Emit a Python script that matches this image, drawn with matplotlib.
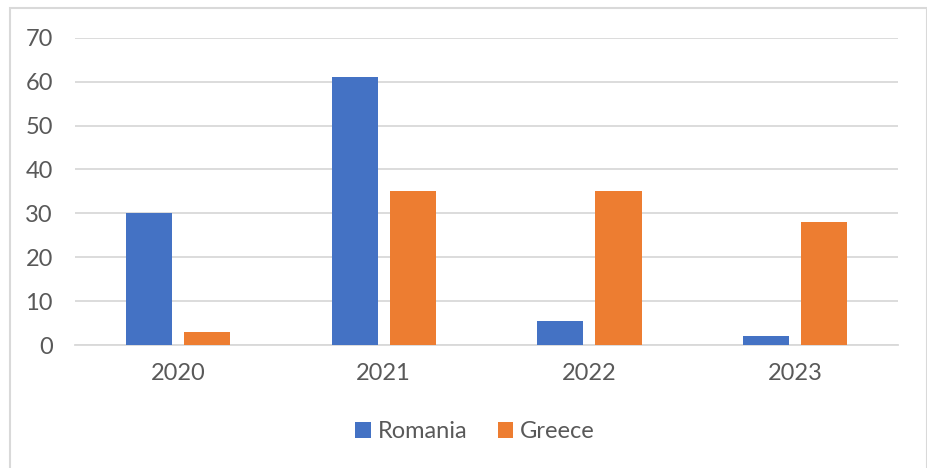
import numpy as np
import matplotlib
matplotlib.use("Agg")
import matplotlib.pyplot as plt
from matplotlib.patches import Rectangle

years = ["2020", "2021", "2022", "2023"]
romania = [30, 61, 5.5, 2.1]
greece = [3.0, 35, 35, 28]

blue = "#4472C4"
orange = "#ED7D31"
grid_col = "#D9D9D9"
text_col = "#595959"

plt.rcParams["font.family"] = ["Lato", "DejaVu Sans"]

fig = plt.figure(figsize=(9.28, 4.68), dpi=100)
ax = fig.add_axes([0.0808, 0.2628, 0.887, 0.6566])

x = np.arange(len(years))
w = 0.224
off = 0.141
ax.bar(x - off, romania, w, color=blue, label="Romania", zorder=3)
ax.bar(x + off, greece, w, color=orange, label="Greece", zorder=3)

ax.set_xlim(-0.5, 3.5)
ax.set_ylim(0, 70)
ax.set_yticks(range(0, 71, 10))
ax.set_xticks(x)
ax.set_xticklabels(years)
ax.grid(axis="y", color=grid_col, lw=1.3, zorder=0)
for s in ["top", "right", "left"]:
    ax.spines[s].set_visible(False)
ax.spines["bottom"].set_color(grid_col)
ax.spines["bottom"].set_linewidth(1.3)
ax.tick_params(axis="both", length=0, labelsize=17, labelcolor=text_col)
ax.tick_params(axis="y", pad=16)
ax.tick_params(axis="x", pad=13)

leg = fig.legend(loc="center", bbox_to_anchor=(0.512, 1 - 432 / 468), ncol=2,
                 frameon=False, fontsize=17, handlelength=0.65, handleheight=0.65,
                 handletextpad=0.3, columnspacing=1.3, labelcolor=text_col)

# light frame around the chart area
fig.patches.append(Rectangle((10 / 928, -0.05), 917 / 928, 1 - 8 / 468 + 0.05,
                             transform=fig.transFigure, fill=False,
                             edgecolor=grid_col, lw=1.5))

fig.savefig("out.png", dpi=100)
